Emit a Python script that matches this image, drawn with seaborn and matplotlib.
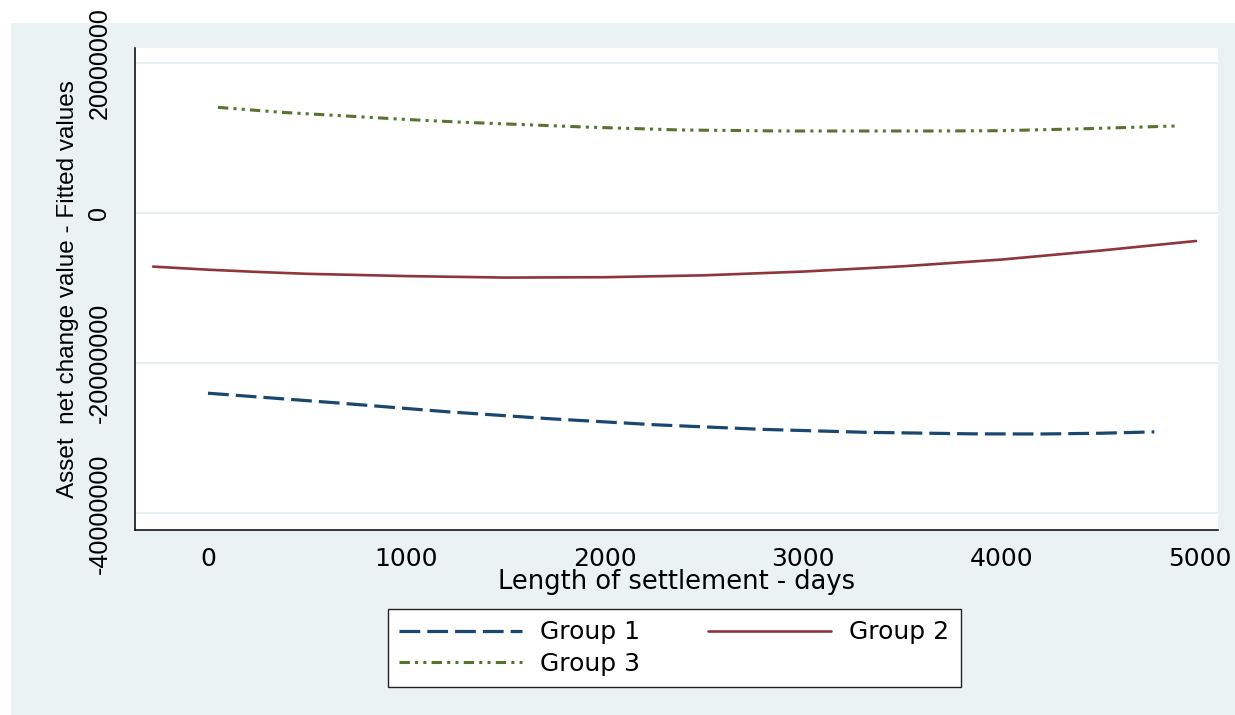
import pandas as pd
import matplotlib
matplotlib.use("Agg")
import matplotlib.pyplot as plt
from matplotlib.patches import Rectangle
import seaborn as sns


# Fitted values (days, value)
g1_days = [0, 670, 1200, 1730, 2260, 2790, 3320, 3850, 4200, 4500, 4770]
g1_vals = [-23990000, -25320000, -26450000, -27400000, -28200000, -28800000,
           -29200000, -29400000, -29420000, -29320000, -29140000]

g2_days = [-277, 0, 250, 500, 1000, 1500, 2000, 2500, 3000, 3500, 4000, 4500, 4980]
g2_vals = [-7140000, -7550000, -7850000, -8100000, -8400000, -8600000, -8550000,
           -8300000, -7800000, -7100000, -6200000, -5000000, -3730000]

g3_days = [50, 370, 670, 990, 1290, 1600, 1900, 2220, 2380, 2910, 3630, 3990, 4430, 4880]
g3_vals = [14060000, 13400000, 12950000, 12460000, 12070000, 11750000, 11440000,
           11180000, 11050000, 10910000, 10910000, 10950000, 11220000, 11580000]

groups = ["Group 1", "Group 2", "Group 3"]
x_ticks = [0, 1000, 2000, 3000, 4000, 5000]
y_ticks = [-40000000, -20000000, 0, 20000000]


# Long-form table for seaborn
df = pd.concat([
    pd.DataFrame({"days": g1_days, "value": g1_vals, "group": "Group 1"}),
    pd.DataFrame({"days": g2_days, "value": g2_vals, "group": "Group 2"}),
    pd.DataFrame({"days": g3_days, "value": g3_vals, "group": "Group 3"}),
])


sns.set_style("white")
plt.rcParams["font.family"] = ["Liberation Sans", "DejaVu Sans"]
plt.rcParams["axes.unicode_minus"] = False
for key in ["text.color", "axes.labelcolor", "xtick.color", "ytick.color"]:
    plt.rcParams[key] = "black"

W, H = 1235, 715
fig = plt.figure(figsize=(W / 100, H / 100), dpi=100)
fig.patch.set_facecolor("white")

# Stata style graph region
fig.patches.append(Rectangle((11 / W, 0), 1, (H - 23) / H,
                             transform=fig.transFigure,
                             facecolor="#EAF2F3", edgecolor="none", zorder=-10))

ax = fig.add_axes([135 / W, (H - 530) / H, (1218 - 135) / W, (530 - 48) / H])
ax.set_facecolor("white")

palette = {"Group 1": "#1A476F", "Group 2": "#90353B", "Group 3": "#55752F"}
dashes = {"Group 1": (6.5, 2.2), "Group 2": "",
          "Group 3": (3.4, 1.7, 1.0, 1.7, 1.0, 1.7)}
widths = {"Group 1": 2.3, "Group 2": 1.9, "Group 3": 2.2}

sns.lineplot(
    data=df,
    x="days",
    y="value",
    hue="group",
    style="group",
    hue_order=groups,
    style_order=groups,
    palette=palette,
    dashes=dashes,
    legend=False,
    ax=ax
)

for line, g in zip(ax.lines, groups):
    line.set_linewidth(widths[g])

ax.set_xlim(-368, 5091)
ax.set_ylim(-42200000, 21960000)

# Axes look
for side in ["top", "right"]:
    ax.spines[side].set_visible(False)
for side in ["left", "bottom"]:
    ax.spines[side].set_color("black")
    ax.spines[side].set_linewidth(1.1)

ax.set_yticks(y_ticks)
ax.set_yticklabels([str(v) for v in y_ticks], rotation=90, va="center",
                   fontsize=18)
ax.set_xticks(x_ticks)
ax.set_xticklabels([str(v) for v in x_ticks], fontsize=18,
                   family=["DejaVu Sans"])

ax.tick_params(axis="y", direction="out", length=9, width=1.1, color="black", pad=8)
ax.tick_params(axis="x", direction="out", length=7.5, width=1.1, color="black", pad=5)

ax.grid(axis="y", color="#E6EFF1", linewidth=1.4)
ax.grid(axis="x", visible=False)
ax.set_axisbelow(True)

ax.set_xlabel("Length of settlement - days", fontsize=18.5, family=["DejaVu Sans"])
ax.set_ylabel("Asset  net change value - Fitted values", fontsize=17.5)
ax.xaxis.set_label_coords(0.5, (530 - 582) / (530 - 48))
ax.xaxis.label.set_va("center")
ax.yaxis.set_label_coords((68 - 135) / (1218 - 135), 0.5)
ax.yaxis.label.set_va("center")

# Legend: row-major order Group 1, Group 2 / Group 3
handles = {g: l for l, g in zip(ax.lines, groups)}
order = ["Group 1", "Group 3", "Group 2"]
leg = fig.legend(
    [handles[g] for g in order],
    order,
    loc="upper left",
    bbox_to_anchor=(388 / W, 1 - 609 / H),
    ncol=2,
    frameon=True,
    fancybox=False,
    borderaxespad=0,
    borderpad=0.45,
    handlelength=4.9,
    handletextpad=0.75,
    columnspacing=2.7,
    labelspacing=0.3,
    prop={"family": ["DejaVu Sans"], "size": 18},
)
leg.get_frame().set_edgecolor("#222222")
leg.get_frame().set_linewidth(1.0)
leg.get_frame().set_facecolor("white")
leg.get_frame().set_alpha(1)

fig.savefig("out.png", dpi=100)
